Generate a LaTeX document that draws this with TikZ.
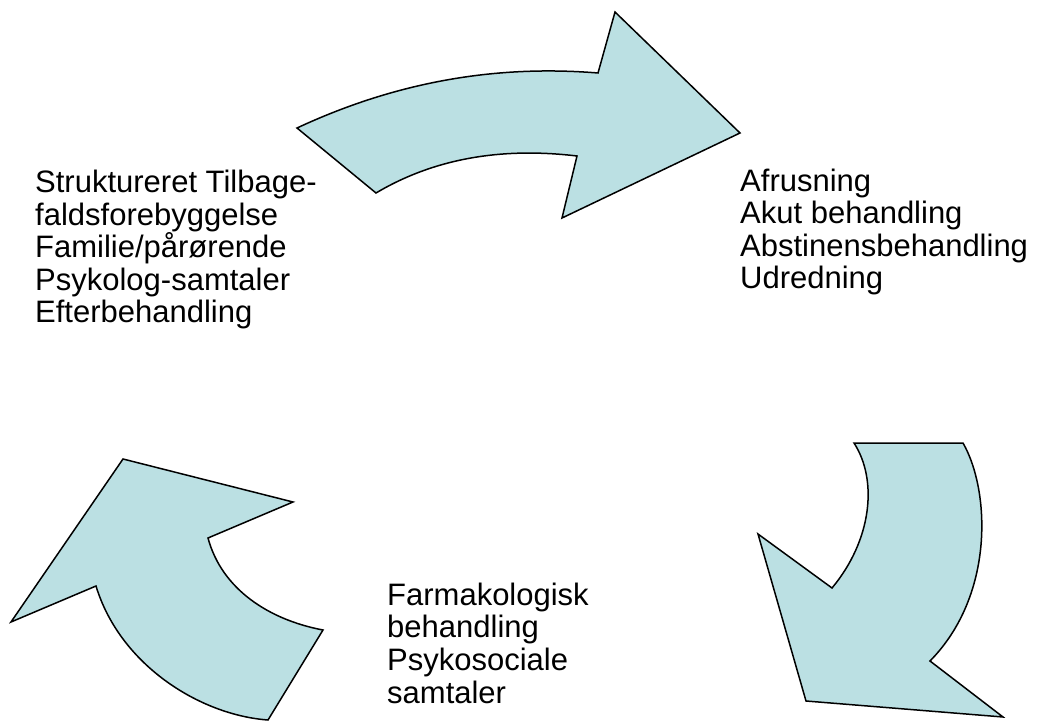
\documentclass[tikz,border=0pt]{standalone}
\usepackage{fontspec}
\setmainfont{Liberation Sans}
\definecolor{arrowfill}{HTML}{BBE0E3}
\tikzset{
  bigarrow/.style={fill=arrowfill,draw=black,line width=1.5pt,line join=miter},
  label/.style={anchor=base west,align=left,inner sep=0pt,font=\fontsize{31}{32.6}\selectfont}
}
\begin{document}
\begin{tikzpicture}[x=1pt,y=-1pt]
\useasboundingbox (0,0) rectangle (1037,722);
% top arrow
\draw[bigarrow] (297,128) .. controls (400,80) and (500,65) .. (598,73) -- (615,12) -- (740,133) -- (562,218) -- (577,156) .. controls (510,148) and (440,155) .. (376,193) -- cycle;
% bottom-right arrow
\draw[bigarrow] (854,443) -- (963,443) .. controls (990,490) and (995,595) .. (930,661) -- (1003,717) -- (806,701) -- (758,534) -- (832,588) .. controls (872,540) and (878,480) .. (854,443) -- cycle;
% bottom-left arrow
\draw[bigarrow] (123,459) -- (293,502) -- (208,538) .. controls (222,590) and (270,620) .. (323,630) -- (268,720) .. controls (200,715) and (120,665) .. (96,586) -- (11,622) -- cycle;
% texts (anchored at the baseline of the last line)
\node[label] (left) at (35,323) {Struktureret Tilbage-\\faldsforebyggelse\\Familie/pårørende\\Psykolog-samtaler\\Efterbehandling};
\node[label] (right) at (740,289) {Afrusning\\Akut behandling\\Abstinensbehandling\\Udredning};
\node[label] (bottom) at (387,703) {Farmakologisk\\behandling\\Psykosociale\\samtaler};
\end{tikzpicture}
\end{document}
